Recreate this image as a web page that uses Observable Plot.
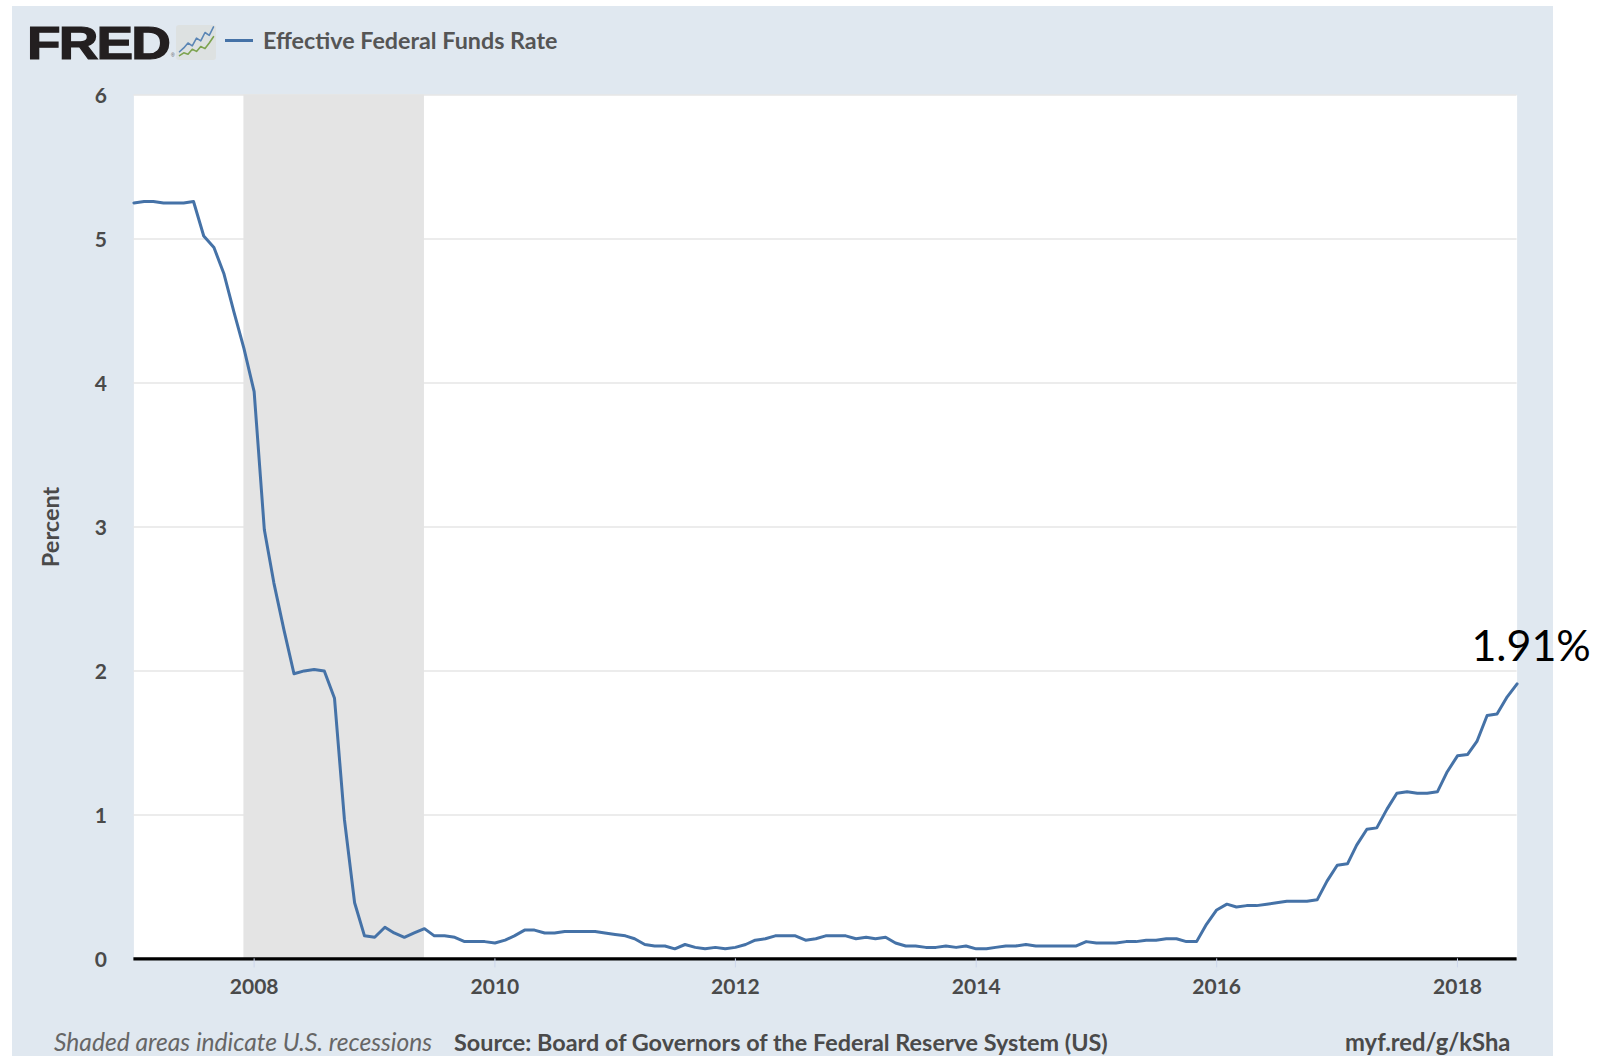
<!DOCTYPE html>
<html>
<head>
<meta charset="utf-8">
<script src="https://cdn.jsdelivr.net/npm/d3@7"></script>
<script src="https://cdn.jsdelivr.net/npm/@observablehq/plot@0.6"></script>
<style>
html,body{margin:0;padding:0;background:#fff;width:1609px;height:1056px;overflow:hidden}
#panel{position:absolute;left:12px;top:6px;width:1541px;height:1050px;background:#e0e8f0}
#page{position:absolute;left:0;top:0;width:1609px;height:1056px;font-family:Lato,sans-serif}
#header{position:relative;height:80px}
#header>*{position:absolute;white-space:nowrap}
#logo{left:27px;top:17px;font:bold 47px/52px "Liberation Sans",sans-serif;letter-spacing:-1.6px;color:#231f20;-webkit-text-stroke:1.2px #231f20;transform:scaleX(1.17);transform-origin:left top}
#reg{left:171px;top:52px;font:5px/7px "Liberation Sans",sans-serif;color:#555}
#icon{left:176px;top:25px;width:40px;height:35px;background:#dde1e1;border-radius:3px}
#swatch{left:225px;top:39px;width:28px;height:3px;background:#4572a7}
#legend{left:263px;top:27px;font:bold 23.3px/26px Lato,sans-serif;color:#555}
#plot svg{display:block}
#footer{position:relative;height:30px;font:bold 23.4px/30px Lato,sans-serif;color:#4a4a4a}
#footer>*{position:absolute;top:1px;white-space:nowrap}
#shaded{left:54px;font-size:24.6px;font-weight:400;font-style:italic;color:#666}
#source{left:454px}
#short{left:1345px;font-size:23.8px}
</style>
</head>
<body>
<div id="panel"></div>
<div id="page">
  <div id="header">
    <div id="logo">FRED</div>
    <div id="reg">®</div>
    <div id="icon"></div>
    <div id="swatch"></div>
    <div id="legend"></div>
  </div>
  <div id="plot"></div>
  <div id="footer">
    <div id="shaded"></div>
    <div id="source"></div>
    <div id="short"></div>
  </div>
</div>
<script>
const seriesName = "Effective Federal Funds Rate";
const yLabel = "Percent";
const noteText = "Shaded areas indicate U.S. recessions";
const sourceText = "Source: Board of Governors of the Federal Reserve System (US)";
const shortUrl = "myf.red/g/kSha";
const startDate = "2007-01-01";
const rate2007 = [5.25,5.26,5.26,5.25,5.25,5.25,5.26,5.02,4.94,4.76,4.49,4.24];
const rate2008 = [3.94,2.98,2.61,2.28,1.98,2.00,2.01,2.00,1.81,0.97,0.39,0.16];
const rate2009 = [0.15,0.22,0.18,0.15,0.18,0.21,0.16,0.16,0.15,0.12,0.12,0.12];
const rate2010 = [0.11,0.13,0.16,0.20,0.20,0.18,0.18,0.19,0.19,0.19,0.19,0.18];
const rate2011 = [0.17,0.16,0.14,0.10,0.09,0.09,0.07,0.10,0.08,0.07,0.08,0.07];
const rate2012 = [0.08,0.10,0.13,0.14,0.16,0.16,0.16,0.13,0.14,0.16,0.16,0.16];
const rate2013 = [0.14,0.15,0.14,0.15,0.11,0.09,0.09,0.08,0.08,0.09,0.08,0.09];
const rate2014 = [0.07,0.07,0.08,0.09,0.09,0.10,0.09,0.09,0.09,0.09,0.09,0.12];
const rate2015 = [0.11,0.11,0.11,0.12,0.12,0.13,0.13,0.14,0.14,0.12,0.12,0.24];
const rate2016 = [0.34,0.38,0.36,0.37,0.37,0.38,0.39,0.40,0.40,0.40,0.41,0.54];
const rate2017 = [0.65,0.66,0.79,0.90,0.91,1.04,1.15,1.16,1.15,1.15,1.16,1.30];
const rate2018 = [1.41,1.42,1.51,1.69,1.70,1.82,1.91];
const recessionStart = ["2007-12-01"];
const recessionEnd = ["2009-06-01"];
const xTickYears = [2008,2010,2012,2014,2016,2018];
const yTicks = [0,1,2,3,4,5,6];
const endLabel = "1.91%";
const iconBlue = [2.5,3.6,5,4.2,6.4,5.6,8,7.2,9.6];
const iconGreen = [1.4,2.2,1.8,3.2,2.6,4,3.4,5,6.8];

const allRates = [rate2007,rate2008,rate2009,rate2010,rate2011,rate2012,rate2013,rate2014,rate2015,rate2016,rate2017,rate2018].flat();
const t0 = new Date(startDate + "T00:00:00Z");
const rows = allRates.map((v,i)=>({date:d3.utcMonth.offset(t0,i),value:v}));
const last = rows[rows.length-1];
const toDate = s => new Date(s + "T00:00:00Z");

document.getElementById("legend").textContent = seriesName;
document.getElementById("shaded").textContent = noteText;
document.getElementById("source").textContent = sourceText;
document.getElementById("short").textContent = shortUrl;

const chart = Plot.plot({
  width: 1609,
  height: 946,
  marginLeft: 133.4,
  marginRight: 92.4,
  marginTop: 14.4,
  marginBottom: 67.6,
  style: {background:"transparent", fontFamily:"Lato, sans-serif", overflow:"visible"},
  x: {type:"utc", domain:[rows[0].date,last.date]},
  y: {domain:[0,6]},
  marks: [
    Plot.frame({fill:"#fff", stroke:null}),
    Plot.gridY(yTicks, {stroke:"#e6e6e6", strokeOpacity:1, strokeWidth:1.5}),
    Plot.rectX([0],{x1:()=>toDate(recessionStart[0]), x2:()=>toDate(recessionEnd[0]), fill:"#e4e4e4"}),
    Plot.ruleY([0],{stroke:"#000", strokeWidth:3.2}),
    Plot.line(rows,{x:"date",y:"value",stroke:"#4572a7",strokeWidth:3,strokeLinejoin:"round"}),
    Plot.axisX(xTickYears.map(y=>new Date(Date.UTC(y,0,1))),{
      tickSize:9, tickPadding:11, stroke:"#ccd6eb", fill:"#4a4a4a",
      tickFormat:d=>String(d.getUTCFullYear()), fontSize:21, fontWeight:700, label:null
    }),
    Plot.axisY(yTicks,{
      tickSize:0, tickPadding:27, fill:"#4a4a4a", fontSize:21, fontWeight:700,
      tickFormat:d=>String(d), dy:1.5, label:null
    }),
    Plot.text([yLabel],{frameAnchor:"left",textAnchor:"middle",rotate:-90,dx:-82,fontSize:23.5,fontWeight:700,fill:"#4a4a4a"}),
    Plot.text([last],{x:"date",y:"value",text:()=>endLabel,dx:14,dy:-23,lineAnchor:"bottom",
      fontSize:43,fill:"#000",clip:false})
  ]
});
document.getElementById("plot").appendChild(chart);

const icon = Plot.plot({
  width:40,height:35,margin:0,
  style:{background:"transparent"},
  x:{axis:null,domain:[0,iconBlue.length-1],inset:3},
  y:{axis:null,domain:[0,10]},
  marks:[
    Plot.line(iconBlue,{x:(d,i)=>i,y:d=>d,stroke:"#5b86b5",strokeWidth:1.6}),
    Plot.line(iconGreen,{x:(d,i)=>i,y:d=>d,stroke:"#7da34f",strokeWidth:1.6})
  ]
});
document.getElementById("icon").appendChild(icon);
</script>
</body>
</html>
